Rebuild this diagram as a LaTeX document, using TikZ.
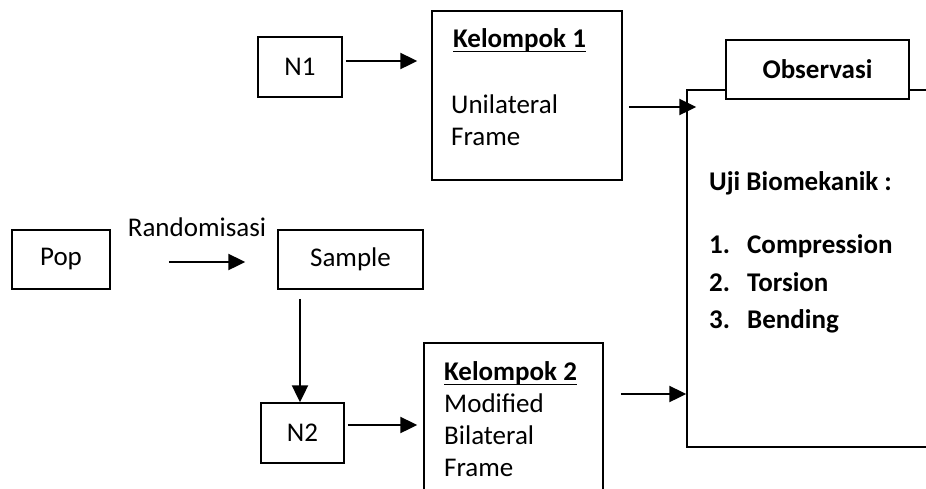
\documentclass[tikz,border=0pt]{standalone}
\usepackage{fontspec}
\setmainfont{Carlito}
\usetikzlibrary{arrows.meta}
\begin{document}
\begin{tikzpicture}[x=1pt,y=-1pt,
  box/.style={draw,line width=1.5pt,inner sep=0pt,fill=white},
  txt/.style={inner sep=0pt,anchor=base west,font=\fontsize{27}{32}\selectfont},
  btxt/.style={txt,font=\fontsize{27}{32}\selectfont\bfseries},
  arr/.style={line width=2.4pt,-{Triangle[length=17pt,width=16pt]}}]
\useasboundingbox (0,0) rectangle (926,488);
\clip (0,0) rectangle (926,488);
% boxes
\node[box,minimum width=253pt,minimum height=357pt] (big) at (813.5,268.5) {};
\node[box,minimum width=183pt,minimum height=59pt] (obs) at (817.5,69.5) {};
\node[box,minimum width=98pt,minimum height=59pt] (pop) at (61,259.5) {};
\node[box,minimum width=145pt,minimum height=59pt] (sample) at (350.5,259.5) {};
\node[box,minimum width=84pt,minimum height=60pt] (n1) at (300,67) {};
\node[box,minimum width=83pt,minimum height=60pt] (n2) at (302.5,433) {};
\node[box,minimum width=190pt,minimum height=169pt] (k1) at (527,95.5) {};
\node[box,minimum width=179pt,minimum height=170pt] (k2) at (513.5,428) {};
% box texts
\node[btxt,anchor=center] (obst) at (obs.center) {Observasi};
\node[txt,anchor=center] (popt) at (pop.center) {Pop};
\node[txt,anchor=center] (samplet) at (sample.center) {Sample};
\node[txt,anchor=center] (n1t) at (n1.center) {N1};
\node[txt,anchor=center] (n2t) at (n2.center) {N2};
\node[txt,anchor=center] (rand) at (197,227) {Randomisasi};
% Kelompok 1
\node[btxt] (k1h) at (453,47) {Kelompok 1};
\draw[line width=1pt] ([yshift=-4pt]k1h.base west) -- ([yshift=-4pt]k1h.base east);
\node[txt] (k1a) at (451,113) {Unilateral};
\node[txt] (k1b) at (451,145) {Frame};
% Kelompok 2
\node[btxt] (k2h) at (444,380) {Kelompok 2};
\draw[line width=1pt] ([yshift=-4pt]k2h.base west) -- ([yshift=-4pt]k2h.base east);
\node[txt] (k2a) at (444,412) {Modified};
\node[txt] (k2b) at (444,444) {Bilateral};
\node[txt] (k2c) at (444,476) {Frame};
% Observation list
\node[btxt] (uji) at (709,190) {Uji Biomekanik :};
\node[btxt] (i1) at (709,253) {1.};
\node[btxt] (t1) at (747,253) {Compression};
\node[btxt] (i2) at (709,291) {2.};
\node[btxt] (t2) at (747,291) {Torsion};
\node[btxt] (i3) at (709,328) {3.};
\node[btxt] (t3) at (747,328) {Bending};
% connectors
\coordinate (a1) at ([yshift=-2.5pt]pop.east);
\draw[arr,shorten <=58pt,shorten >=32pt] (a1) -- (a1 -| sample.west);
\coordinate (a2) at ([yshift=6pt]n1.east);
\draw[arr,shorten <=3pt,shorten >=14pt] (a2) -- (a2 -| k1.west);
\coordinate (a3) at ([yshift=8pt]n2.east);
\draw[arr,shorten <=3pt,shorten >=6pt] (a3) -- (a3 -| k2.west);
\coordinate (a4) at ([xshift=-2.5pt]n2.north |- sample.south);
\draw[arr,shorten <=9pt] (a4) -- (a4 |- n2.north);
\coordinate (a5) at (k1.east |- 0,107);
\draw[arr,shorten <=6pt,shorten >=-10pt] (a5) -- (a5 -| big.west);
\coordinate (a6) at (k2.east |- 0,394);
\draw[arr,shorten <=17pt] (a6) -- (a6 -| big.west);
\end{tikzpicture}
\end{document}
